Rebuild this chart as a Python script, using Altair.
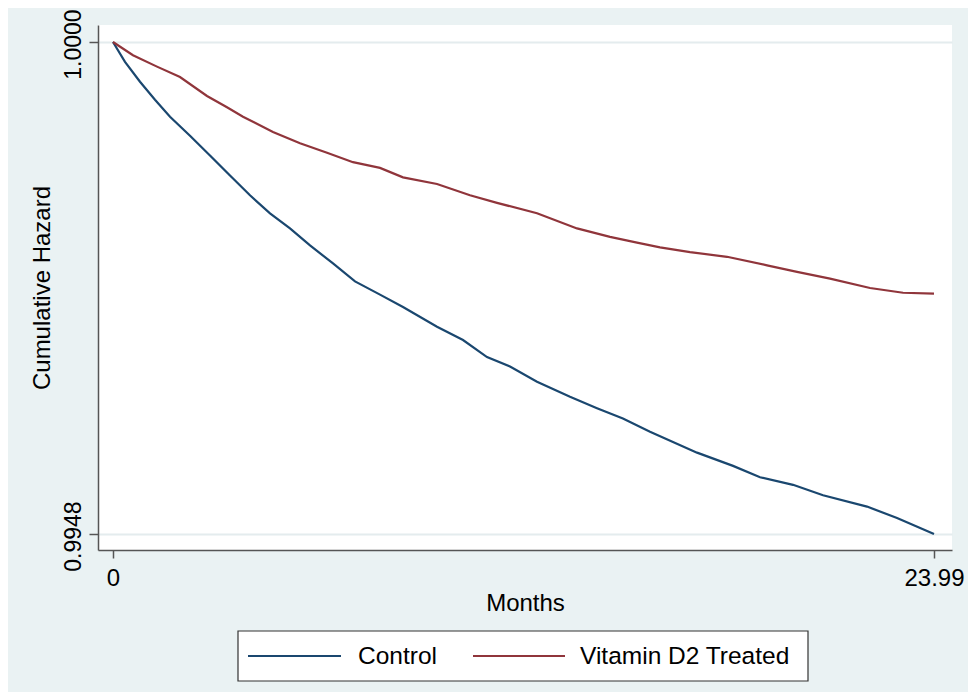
import altair as alt
import pandas as pd

# Data
groups = ["Control", "Vitamin D2 Treated"]
colors = ["#1A476F", "#90353B"]

control_months = [0, 0.351, 0.789, 1.227, 1.666, 2.250, 2.834, 3.419, 4.003, 4.588,
                  5.172, 5.757, 6.429, 7.072, 7.802, 8.474, 9.468, 10.228, 10.929,
                  11.601, 12.390, 13.354, 14.143, 14.900, 15.692, 17.066, 18.118,
                  18.907, 19.871, 20.748, 22.033, 22.910, 23.99]
control_values = [1.0, 0.99979, 0.99958, 0.99939, 0.99921, 0.99901, 0.99880, 0.99859,
                  0.99838, 0.99819, 0.99803, 0.99785, 0.99766, 0.99747, 0.99733,
                  0.99720, 0.99699, 0.99685, 0.99667, 0.99657, 0.99641, 0.99625,
                  0.99613, 0.99602, 0.99588, 0.99566, 0.99552, 0.99540, 0.99532,
                  0.99521, 0.99509, 0.99497, 0.99480]

treated_months = [0, 0.584, 1.286, 1.958, 2.747, 3.331, 3.799, 4.675, 5.465, 6.254,
                  7.013, 7.802, 8.474, 9.468, 10.432, 11.221, 12.390, 13.559, 14.523,
                  15.312, 15.984, 16.861, 17.942, 19.111, 19.988, 20.952, 22.121,
                  23.085, 23.99]
treated_values = [1.0, 0.99986, 0.99974, 0.99963, 0.99943, 0.99931, 0.99921, 0.99905,
                  0.99893, 0.99883, 0.99873, 0.99867, 0.99857, 0.99850, 0.99838,
                  0.99830, 0.99819, 0.99803, 0.99794, 0.99788, 0.99783, 0.99778,
                  0.99773, 0.99764, 0.99757, 0.99750, 0.99740, 0.99735, 0.99734]

x_ticks = [0, 23.99]
y_ticks = [0.9948, 1.0]

df = pd.concat([
    pd.DataFrame({"month": control_months, "value": control_values, "group": groups[0]}),
    pd.DataFrame({"month": treated_months, "value": treated_values, "group": groups[1]}),
])

FONT = "Liberation Sans"
FS = 24

lines = alt.Chart(df).mark_line(strokeWidth=2.2).encode(
    x=alt.X("month:Q",
            scale=alt.Scale(domain=[-0.438, 24.516], nice=False, zero=False),
            axis=alt.Axis(values=x_ticks, format=".2~f", title="Months", grid=False,
                          tickSize=8, labelPadding=8, titlePadding=1)),
    y=alt.Y("value:Q",
            scale=alt.Scale(domain=[0.994631, 1.00018], nice=False, zero=False),
            axis=alt.Axis(values=y_ticks, format=".4f", title="Cumulative Hazard",
                          grid=True, gridColor="#E4ECEE", gridWidth=2,
                          labelAngle=270, labelAlign="center", labelBaseline="bottom",
                          labelFontSize=23, labelOffset=2,
                          tickSize=9, labelPadding=4, titlePadding=8)),
    color=alt.Color("group:N", scale=alt.Scale(domain=groups, range=colors), legend=None),
)

# Hand-drawn legend (box, two line keys, two labels), placed below the plot
one = pd.DataFrame({"k": [0]})
legend_box = alt.Chart(one).mark_rect(fill="white", stroke="#333333", strokeWidth=1.2).encode(
    x=alt.value(140), x2=alt.value(710), y=alt.value(606), y2=alt.value(656))
key_control = alt.Chart(one).mark_rule(strokeWidth=2, color=colors[0]).encode(
    x=alt.value(150), x2=alt.value(243), y=alt.value(631))
key_treated = alt.Chart(one).mark_rule(strokeWidth=2, color=colors[1]).encode(
    x=alt.value(375), x2=alt.value(467), y=alt.value(631))
label_control = alt.Chart(one).mark_text(
    align="left", baseline="middle", font=FONT, fontSize=24.5, color="black").encode(
    x=alt.value(260), y=alt.value(632), text=alt.value(groups[0]))
label_treated = alt.Chart(one).mark_text(
    align="left", baseline="middle", font=FONT, fontSize=24.5, color="black").encode(
    x=alt.value(482), y=alt.value(632), text=alt.value(groups[1]))

chart = alt.layer(
    lines, legend_box, key_control, key_treated, label_control, label_treated
).properties(
    width=854, height=525,
    autosize=alt.AutoSizeParams(type="none"),
    padding={"left": 90, "top": 17, "right": 16, "bottom": 142},
    background="#EAF2F3",
).configure_view(
    fill="white", strokeWidth=0
).configure_axis(
    labelFont=FONT, titleFont=FONT, labelFontSize=FS, titleFontSize=FS,
    titleFontWeight="normal", labelColor="black", titleColor="black",
    domainColor="#555555", tickColor="#555555", domainWidth=1.5, tickWidth=1.5,
)

chart.save("out.html", embed_options={"renderer": "svg", "actions": False})
